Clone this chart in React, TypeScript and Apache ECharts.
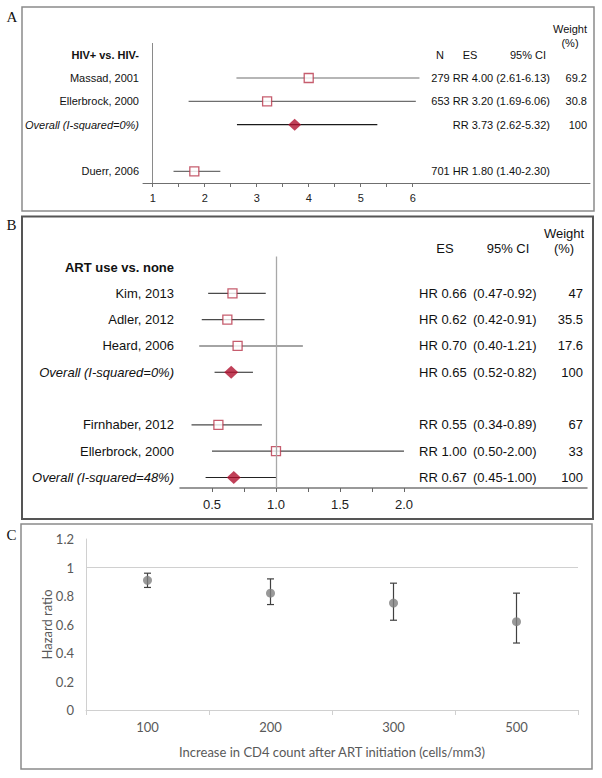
import React, { useEffect, useRef } from "react";
import * as echarts from "echarts";

// ---------- Panel A data ----------
const aHeader = "HIV+ vs. HIV-";
const aStudies = ["Massad, 2001", "Ellerbrock, 2000", "Overall (I-squared=0%)", "Duerr, 2006"];
const aRows = [1, 2, 3, 5];
const aN = ["279", "653", "", "701"];
const aMeasure = ["RR", "RR", "RR", "HR"];
const aES = [4.0, 3.2, 3.73, 1.8];
const aLow = [2.61, 1.69, 2.62, 1.4];
const aHigh = [6.13, 6.06, 5.32, 2.3];
const aWeight = ["69.2", "30.8", "100", ""];
const aOverall = [false, false, true, false];
const aTickLabels = [1, 2, 3, 4, 5, 6];
const aTickMarks = [1, 1.5, 2, 2.5, 3, 3.5, 4, 4.5, 5, 5.5, 6];

// ---------- Panel B data ----------
const bHeader = "ART use vs. none";
const bStudies = [
  "Kim, 2013",
  "Adler, 2012",
  "Heard, 2006",
  "Overall (I-squared=0%)",
  "Firnhaber, 2012",
  "Ellerbrock, 2000",
  "Overall (I-squared=48%)",
];
const bRows = [1, 2, 3, 4, 6, 7, 8];
const bMeasure = ["HR", "HR", "HR", "HR", "RR", "RR", "RR"];
const bES = [0.66, 0.62, 0.7, 0.65, 0.55, 1.0, 0.67];
const bLow = [0.47, 0.42, 0.4, 0.52, 0.34, 0.5, 0.45];
const bHigh = [0.92, 0.91, 1.21, 0.82, 0.89, 2.0, 1.0];
const bWeight = ["47", "35.5", "17.6", "100", "67", "33", "100"];
const bOverall = [false, false, false, true, false, false, true];
const bTickLabels = [0.5, 1.0, 1.5, 2.0];
const bTickMarks = [0.5, 0.75, 1.0, 1.25, 1.5, 1.75, 2.0];

// ---------- Panel C data ----------
const cCategories = ["100", "200", "300", "500"];
const cHR = [0.91, 0.82, 0.75, 0.62];
const cLow = [0.86, 0.74, 0.63, 0.47];
const cHigh = [0.96, 0.92, 0.89, 0.82];
const cXName = "Increase in CD4 count after ART initiation (cells/mm3)";
const cYName = "Hazard ratio";

const SANS = "Liberation Sans, Arial, sans-serif";
const CAL = "Lato, sans-serif";
const SQUARE_RED = "#b8344a";
const DIAMOND_RED = "#b0102e";

function ciText(lo: number, hi: number) {
  return `(${lo.toFixed(2)}-${hi.toFixed(2)})`;
}

function buildOption() {
  const aIdx = (v: number) => aRows.indexOf(v);
  const bIdx = (v: number) => bRows.indexOf(v);

  const ciRender = (studyColor: string, overallColor: string) => (params: any, api: any) => {
    const p1 = api.coord([api.value(0), api.value(2)]);
    const p2 = api.coord([api.value(1), api.value(2)]);
    return {
      type: "line",
      shape: { x1: p1[0], y1: p1[1], x2: p2[0], y2: p2[1] },
      style: { stroke: api.value(3) ? overallColor : studyColor, lineWidth: 1.1 },
    };
  };

  const headerText = (text: string, x: number, y: number, size: number) => ({
    type: "text",
    x,
    y,
    style: {
      text,
      textAlign: "center",
      textVerticalAlign: "middle",
      fontFamily: SANS,
      fontSize: size,
      fill: "#111",
    },
  });

  const panelLetter = (text: string, x: number, y: number) => ({
    type: "text",
    x,
    y,
    style: {
      text,
      textAlign: "center",
      textVerticalAlign: "middle",
      fontFamily: "Liberation Serif, serif",
      fontSize: 15,
      fill: "#111",
    },
  });

  return {
    animation: false,
    backgroundColor: "#ffffff",
    grid: [
      { left: 143, right: 12, top: 43, height: 140, outerBoundsMode: "none" },
      { left: 180, right: 15, top: 256.5, height: 231.5, outerBoundsMode: "none" },
      { left: 86, right: 24, top: 539, height: 171, outerBoundsMode: "none" },
    ],
    xAxis: [
      {
        type: "value",
        gridIndex: 0,
        min: 0.813,
        max: 9.41,
        splitLine: { show: false },
        axisLine: { show: true, onZero: false, lineStyle: { color: "#6f6f6f", width: 1 } },
        axisTick: { show: true, customValues: aTickMarks, length: 4, lineStyle: { color: "#6f6f6f" } },
        axisLabel: {
          customValues: aTickLabels,
          margin: 9,
          fontFamily: SANS,
          fontSize: 11,
          color: "#222",
          formatter: (v: number) => String(v),
        },
      },
      {
        type: "value",
        gridIndex: 1,
        min: 0.25,
        max: 3.43,
        splitLine: { show: false },
        axisLine: { show: true, onZero: false, lineStyle: { color: "#777", width: 1.5 } },
        axisTick: { show: true, customValues: bTickMarks, length: 4, lineStyle: { color: "#666" } },
        axisLabel: {
          customValues: bTickLabels,
          margin: 10,
          fontFamily: SANS,
          fontSize: 13,
          color: "#222",
          formatter: (v: number) => v.toFixed(1),
        },
      },
      {
        type: "category",
        gridIndex: 2,
        data: cCategories,
        boundaryGap: true,
        axisLine: { show: true, onZero: false, lineStyle: { color: "#d0d0d0", width: 1 } },
        axisTick: { show: true, alignWithLabel: false, length: 5, lineStyle: { color: "#d0d0d0" } },
        axisLabel: { margin: 10, fontFamily: CAL, fontSize: 13, color: "#595959" },
        splitLine: { show: false },
        name: cXName,
        nameLocation: "middle",
        nameGap: 35,
        nameMoveOverlap: false,
        nameTextStyle: { fontFamily: CAL, fontSize: 13, color: "#595959" },
      },
    ],
    yAxis: [
      {
        type: "value",
        gridIndex: 0,
        inverse: true,
        min: -0.5,
        max: 5.5,
        axisLine: { show: false, onZero: false },
        axisTick: { show: false },
        splitLine: { show: false },
        axisLabel: {
          customValues: [0, ...aRows],
          margin: 4,
          formatter: (v: number) => {
            if (v === 0) return `{h|${aHeader}}`;
            const i = aIdx(v);
            return aOverall[i] ? `{o|${aStudies[i]}}` : `{s|${aStudies[i]}}`;
          },
          rich: {
            h: { fontFamily: SANS, fontSize: 11, fontWeight: "bold", color: "#111" },
            s: { fontFamily: SANS, fontSize: 11, color: "#111" },
            o: { fontFamily: SANS, fontSize: 11, fontStyle: "italic", color: "#111" },
          },
        },
      },
      {
        type: "value",
        gridIndex: 0,
        position: "right",
        inverse: true,
        min: -0.5,
        max: 5.5,
        axisLine: { show: false, onZero: false },
        axisTick: { show: false },
        splitLine: { show: false },
        axisLabel: {
          inside: true,
          customValues: aRows,
          margin: 3,
          formatter: (v: number) => {
            const i = aIdx(v);
            const es = `${aN[i] ? aN[i] + " " : ""}${aMeasure[i]} ${aES[i].toFixed(2)} ${ciText(aLow[i], aHigh[i])}`;
            return `{e|${es}}{w|${aWeight[i] || " "}}`;
          },
          rich: {
            e: { fontFamily: SANS, fontSize: 11, color: "#111" },
            w: { fontFamily: SANS, fontSize: 11, color: "#111", width: 37, align: "right" },
          },
        },
      },
      {
        type: "value",
        gridIndex: 1,
        inverse: true,
        min: -0.4,
        max: 8.4,
        axisLine: { show: false, onZero: false },
        axisTick: { show: false },
        splitLine: { show: false },
        axisLabel: {
          customValues: [0, ...bRows],
          margin: 6,
          formatter: (v: number) => {
            if (v === 0) return `{h|${bHeader}}`;
            const i = bIdx(v);
            return bOverall[i] ? `{o|${bStudies[i]}}` : `{s|${bStudies[i]}}`;
          },
          rich: {
            h: { fontFamily: SANS, fontSize: 13, fontWeight: "bold", color: "#111" },
            s: { fontFamily: SANS, fontSize: 13, color: "#111" },
            o: { fontFamily: SANS, fontSize: 13, fontStyle: "italic", color: "#111" },
          },
        },
      },
      {
        type: "value",
        gridIndex: 1,
        position: "right",
        inverse: true,
        min: -0.4,
        max: 8.4,
        axisLine: { show: false, onZero: false },
        axisTick: { show: false },
        splitLine: { show: false },
        axisLabel: {
          inside: true,
          customValues: bRows,
          margin: 4,
          formatter: (v: number) => {
            const i = bIdx(v);
            return `{e|${bMeasure[i]} ${bES[i].toFixed(2)}}{c|${ciText(bLow[i], bHigh[i])}}{w|${bWeight[i]}}`;
          },
          rich: {
            e: { fontFamily: SANS, fontSize: 13, color: "#111", width: 54, align: "left" },
            c: { fontFamily: SANS, fontSize: 13, color: "#111", width: 69, align: "left" },
            w: { fontFamily: SANS, fontSize: 13, color: "#111", width: 41, align: "right" },
          },
        },
      },
      {
        type: "value",
        gridIndex: 2,
        min: 0,
        max: 1.2,
        interval: 0.2,
        axisLine: { show: true, onZero: false, lineStyle: { color: "#d0d0d0" } },
        axisTick: { show: false },
        splitLine: { show: false },
        axisLabel: {
          margin: 12,
          fontFamily: CAL,
          fontSize: 13,
          color: "#595959",
          formatter: (v: number) => String(Math.round(v * 10) / 10),
        },
        name: cYName,
        nameLocation: "middle",
        nameGap: 33,
        nameMoveOverlap: false,
        nameTextStyle: { fontFamily: CAL, fontSize: 13, color: "#595959" },
      },
    ],
    series: [
      // ---- Panel A ----
      {
        type: "custom",
        xAxisIndex: 0,
        yAxisIndex: 0,
        renderItem: ciRender("#6e6e6e", "#1a1a1a"),
        data: aRows.map((r, i) => [aLow[i], aHigh[i], r, aOverall[i] ? 1 : 0]),
        encode: { x: [0, 1], y: 2 },
        z: 2,
        silent: true,
      },
      {
        type: "scatter",
        xAxisIndex: 0,
        yAxisIndex: 0,
        symbol: "rect",
        symbolSize: 9,
        itemStyle: { color: "#ffffff", borderColor: SQUARE_RED, borderWidth: 1.3 },
        data: aRows.map((r, i) => (aOverall[i] ? null : [aES[i], r])).filter(Boolean),
        z: 3,
        markLine: {
          silent: true,
          symbol: "none",
          label: { show: false },
          lineStyle: { color: "#8a8a8a", width: 1, type: "solid" },
          data: [{ xAxis: 1 }],
        },
      },
      {
        type: "scatter",
        xAxisIndex: 0,
        yAxisIndex: 0,
        symbol: "diamond",
        symbolSize: [13, 12],
        itemStyle: { color: DIAMOND_RED },
        data: aRows.map((r, i) => (aOverall[i] ? [aES[i], r] : null)).filter(Boolean),
        z: 4,
      },
      // ---- Panel B ----
      {
        type: "custom",
        xAxisIndex: 1,
        yAxisIndex: 2,
        renderItem: ciRender("#4a4a4a", "#222222"),
        data: bRows.map((r, i) => [bLow[i], bHigh[i], r, bOverall[i] ? 1 : 0]),
        encode: { x: [0, 1], y: 2 },
        z: 2,
        silent: true,
      },
      {
        type: "scatter",
        xAxisIndex: 1,
        yAxisIndex: 2,
        symbol: "rect",
        symbolSize: 9,
        itemStyle: { color: "#ffffff", borderColor: SQUARE_RED, borderWidth: 1.3 },
        data: bRows.map((r, i) => (bOverall[i] ? null : [bES[i], r])).filter(Boolean),
        z: 3,
        markLine: {
          silent: true,
          symbol: "none",
          label: { show: false },
          lineStyle: { color: "#a8a8a8", width: 1.3, type: "solid" },
          data: [{ xAxis: 1 }],
        },
      },
      {
        type: "scatter",
        xAxisIndex: 1,
        yAxisIndex: 2,
        symbol: "diamond",
        symbolSize: [14, 13],
        itemStyle: { color: DIAMOND_RED },
        data: bRows.map((r, i) => (bOverall[i] ? [bES[i], r] : null)).filter(Boolean),
        z: 4,
      },
      // ---- Panel C ----
      {
        type: "custom",
        xAxisIndex: 2,
        yAxisIndex: 4,
        renderItem: (params: any, api: any) => {
          const top = api.coord([api.value(0), api.value(2)]);
          const bot = api.coord([api.value(0), api.value(1)]);
          const st = { stroke: "#404040", lineWidth: 1.2 };
          const cap = 3.5;
          return {
            type: "group",
            children: [
              { type: "line", shape: { x1: top[0], y1: top[1], x2: bot[0], y2: bot[1] }, style: st },
              { type: "line", shape: { x1: top[0] - cap, y1: top[1], x2: top[0] + cap, y2: top[1] }, style: st },
              { type: "line", shape: { x1: bot[0] - cap, y1: bot[1], x2: bot[0] + cap, y2: bot[1] }, style: st },
            ],
          };
        },
        data: cCategories.map((c, i) => [i, cLow[i], cHigh[i]]),
        encode: { x: 0, y: [1, 2] },
        z: 2,
        silent: true,
      },
      {
        type: "scatter",
        xAxisIndex: 2,
        yAxisIndex: 4,
        symbol: "circle",
        symbolSize: 9,
        itemStyle: { color: "#7f7f7f" },
        data: cHR,
        z: 3,
        markLine: {
          silent: true,
          symbol: "none",
          label: { show: false },
          lineStyle: { color: "#d0d0d0", width: 1, type: "solid" },
          data: [{ yAxis: 1 }],
        },
      },
    ],
    graphic: [
      // panel frames
      { type: "rect", shape: { x: 22, y: 7, width: 572, height: 204 }, style: { fill: "none", stroke: "#8a8a8a", lineWidth: 1.5 }, silent: true },
      { type: "rect", shape: { x: 22, y: 216.5, width: 571, height: 302.5 }, style: { fill: "none", stroke: "#555", lineWidth: 2 }, silent: true },
      { type: "rect", shape: { x: 21, y: 524, width: 571, height: 245 }, style: { fill: "none", stroke: "#8a8a8a", lineWidth: 1.5 }, silent: true },
      panelLetter("A", 12, 17),
      panelLetter("B", 11.5, 225),
      panelLetter("C", 11.5, 535),
      // panel A headers
      headerText("N", 440, 55, 11),
      headerText("ES", 470, 55, 11),
      headerText("95% CI", 528, 55, 11),
      headerText("Weight", 570, 29, 11),
      headerText("(%)", 570, 43, 11),
      // panel B headers
      headerText("ES", 445, 248, 13),
      headerText("95% CI", 508, 248, 13),
      headerText("Weight", 564, 233, 13),
      headerText("(%)", 564, 248, 13),
    ],
  };
}

export default function App() {
  const ref = useRef<HTMLDivElement>(null);
  useEffect(() => {
    document.body.style.margin = "0";
    if (!ref.current) return;
    const chart = echarts.init(ref.current, undefined, { renderer: "svg" });
    chart.setOption(buildOption() as any);
    return () => chart.dispose();
  }, []);
  return <div ref={ref} style={{ width: 602, height: 778 }} />;
}
